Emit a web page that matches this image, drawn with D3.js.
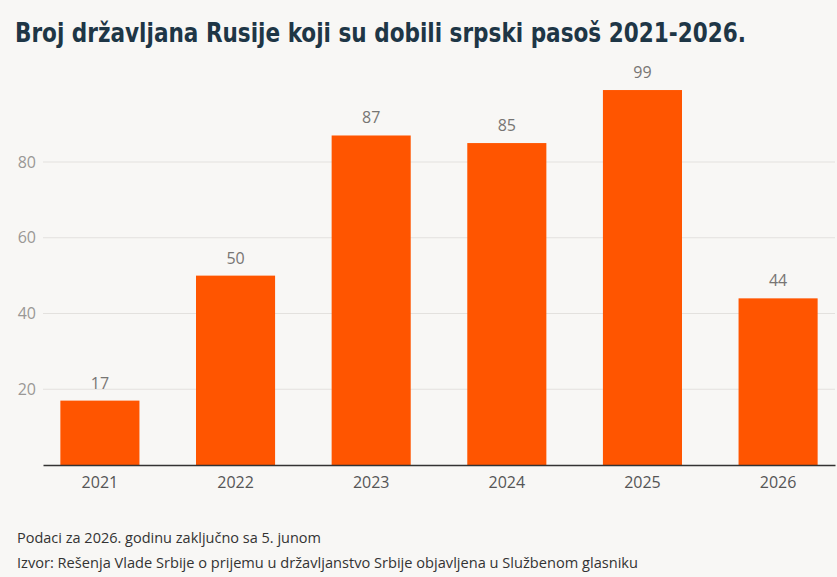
<!DOCTYPE html>
<html>
<head>
<meta charset="utf-8">
<script src="https://cdn.jsdelivr.net/npm/d3@7"></script>
<style>
  body { margin: 0; background: #f8f7f5; }
  svg { display: block; }
</style>
</head>
<body>
<div id="chart"></div>
<script>
// Russian citizens who got a Serbian passport, per year
const years = ["2021", "2022", "2023", "2024", "2025", "2026"];
const counts = [17, 50, 87, 85, 99, 44];
const yTicks = [20, 40, 60, 80];

const width = 837;
const height = 577;
const margin = { top: 60, right: 2, bottom: 112, left: 43 };

const svg = d3.select("#chart")
    .append("svg")
    .attr("width", width)
    .attr("height", height);

svg.append("rect")
    .attr("width", width)
    .attr("height", height)
    .attr("fill", "#f8f7f5");

const x = d3.scaleBand()
    .domain(years)
    .range([margin.left, width - margin.right])
    .paddingInner(0.417)
    .paddingOuter(0.128);

const y = d3.scaleLinear()
    .domain([0, 80])
    .range([height - margin.bottom, 162]);

// gridlines
svg.append("g")
    .selectAll("line")
    .data(yTicks)
    .join("line")
    .attr("x1", margin.left)
    .attr("x2", width - margin.right)
    .attr("y1", d => y(d))
    .attr("y2", d => y(d))
    .attr("stroke", "#e3e1de")
    .attr("stroke-width", 1);

// y axis labels
svg.append("g")
    .attr("transform", `translate(${margin.left},0)`)
    .call(d3.axisLeft(y).tickValues(yTicks).tickSize(0).tickPadding(7))
    .call(g => g.select(".domain").remove())
    .selectAll("text")
    .attr("font-family", "'Open Sans', sans-serif")
    .attr("font-size", 16)
    .attr("fill", "#9a9896");

// bars
svg.append("g")
    .selectAll("rect")
    .data(counts)
    .join("rect")
    .attr("x", (d, i) => x(years[i]))
    .attr("y", d => y(d))
    .attr("width", x.bandwidth())
    .attr("height", d => y(0) - y(d))
    .attr("fill", "#ff5500");

// value labels
svg.append("g")
    .selectAll("text")
    .data(counts)
    .join("text")
    .attr("x", (d, i) => x(years[i]) + x.bandwidth() / 2)
    .attr("y", d => y(d) - 12)
    .attr("text-anchor", "middle")
    .attr("font-family", "'Open Sans', sans-serif")
    .attr("font-size", 16)
    .attr("fill", "#777573")
    .text(d => d);

// x axis
svg.append("g")
    .attr("transform", `translate(0,${y(0)})`)
    .call(d3.axisBottom(x).tickSize(0).tickPadding(12))
    .call(g => g.select(".domain").attr("stroke", "#333").attr("stroke-width", 1.3))
    .selectAll("text")
    .attr("font-family", "'Open Sans', sans-serif")
    .attr("font-size", 16)
    .attr("fill", "#555");

// title
svg.append("text")
    .attr("x", 15)
    .attr("y", 42)
    .attr("font-family", "'DejaVu Sans Condensed', 'DejaVu Sans', sans-serif")
    .attr("font-weight", "bold")
    .attr("font-size", 27)
    .attr("textLength", 731)
    .attr("lengthAdjust", "spacingAndGlyphs")
    .attr("fill", "#1e3646")
    .text("Broj državljana Rusije koji su dobili srpski pasoš 2021-2026.");

// footnotes
const notes = [
    { text: "Podaci za 2026. godinu zaključno sa 5. junom", y: 543, len: 304 },
    { text: "Izvor: Rešenja Vlade Srbije o prijemu u državljanstvo Srbije objavljena u Službenom glasniku", y: 568, len: 621 }
];

svg.append("g")
    .selectAll("text")
    .data(notes)
    .join("text")
    .attr("x", 17)
    .attr("y", d => d.y)
    .attr("font-family", "'Open Sans', sans-serif")
    .attr("font-size", 15)
    .attr("textLength", d => d.len)
    .attr("lengthAdjust", "spacingAndGlyphs")
    .attr("fill", "#333")
    .text(d => d.text);
</script>
</body>
</html>
